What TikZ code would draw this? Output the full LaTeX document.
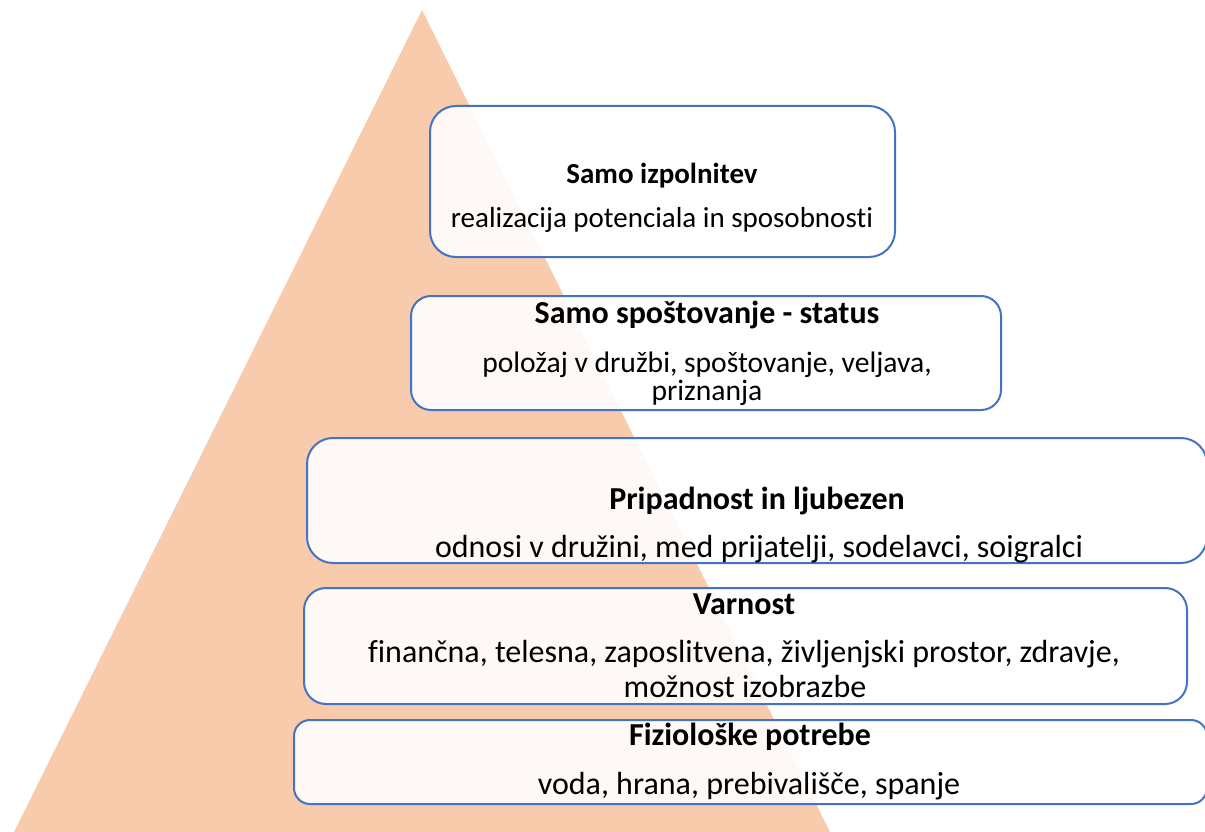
\documentclass[tikz,border=0pt]{standalone}
\usepackage{fontspec}
\setmainfont[Ligatures=NoCommon]{Carlito}
\definecolor{peach}{HTML}{F8CBAD}
\definecolor{boxblue}{HTML}{4472C4}
\begin{document}
\begin{tikzpicture}[x=1pt,y=-1pt,
  lvl/.style={draw=boxblue, line width=2pt, fill=white, fill opacity=0.9, draw opacity=1, rounded corners=#1},
  lvl/.default=24pt,
  ttl/.style={anchor=base, inner sep=0pt, font=\fontsize{#1}{#1}\selectfont\bfseries},
  txt/.style={anchor=base, inner sep=0pt, font=\fontsize{#1}{#1}\selectfont}]
\useasboundingbox (0,0) rectangle (1205,832);
% pyramid
\fill[peach] (422,10) -- (830,832) -- (14,832) -- cycle;
% boxes
\draw[lvl=26pt] (430,106) rectangle (895,257);
\draw[lvl=20pt] (411,296) rectangle (1001,410);
\draw[lvl=26pt] (307,438) rectangle (1207,563);
\draw[lvl=22pt] (304,588) rectangle (1187,704);
\draw[lvl=16pt] (294,720) rectangle (1207,804);
% texts
\node[ttl=29] (t1) at (662,183) {Samo izpolnitev};
\node[txt=29] (s1) at (662,227) {realizacija potenciala in sposobnosti};
\node[ttl=32] (t2) at (707,323) {Samo spoštovanje - status};
\node[txt=29.6] (s2a) at (707,372) {položaj v družbi, spoštovanje, veljava,};
\node[txt=29.6] (s2b) at (707,400) {priznanja};
\node[ttl=32] (t3) at (757,509) {Pripadnost in ljubezen};
\node[txt=32] (s3) at (759,557) {odnosi v družini, med prijatelji, sodelavci, soigralci};
\node[ttl=32] (t4) at (744,614) {Varnost};
\node[txt=32] (s4a) at (744,662) {finančna, telesna, zaposlitvena, življenjski prostor, zdravje,};
\node[txt=32] (s4b) at (745,697) {možnost izobrazbe};
\node[ttl=32] (t5) at (750,745) {Fiziološke potrebe};
\node[txt=32] (s5) at (749,794) {voda, hrana, prebivališče, spanje};
\end{tikzpicture}
\end{document}
